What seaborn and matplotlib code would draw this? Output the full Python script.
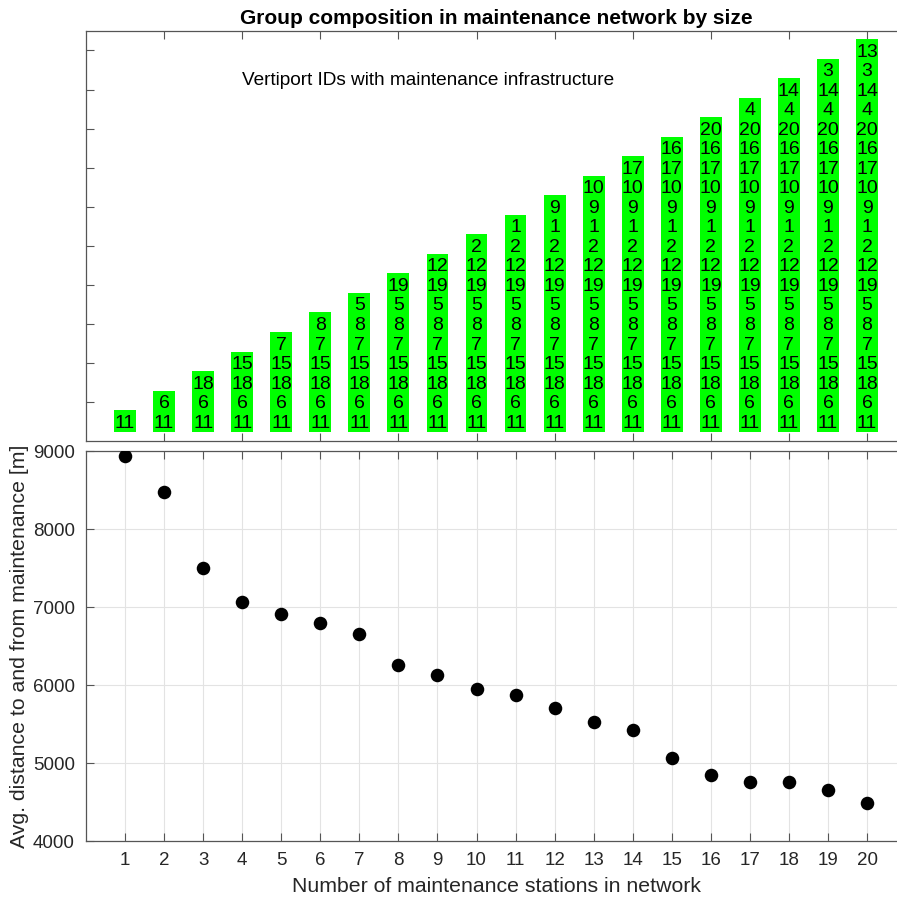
import numpy as np
import pandas as pd
import matplotlib
matplotlib.use("Agg")
import matplotlib.pyplot as plt
import seaborn as sns

# Data
stations = list(range(1, 21))
# order in which vertiports are added to the maintenance network (bottom to top)
vertiport_order = [11, 6, 18, 15, 7, 8, 5, 19, 12, 2, 1, 9, 10, 17, 16, 20, 4, 14, 3, 13]
avg_distance = [8940, 8470, 7495, 7060, 6910, 6800, 6660, 6255, 6130, 5945,
                5875, 5705, 5530, 5420, 5060, 4850, 4755, 4755, 4650, 4485]
groups = [vertiport_order[:n] for n in stations]

sns.set_style("white")
plt.rcParams['font.family'] = ['Liberation Sans', 'DejaVu Sans']

GREEN = '#00ff00'
SPINE = '#555555'
TXT = '#262626'
pad = 0.13  # extra box height around the text rows

fig = plt.figure(figsize=(8.97, 8.97), dpi=100)
ax1 = fig.add_axes([0.0959, 0.5084, 0.9142, 0.4571])
ax2 = fig.add_axes([0.0959, 0.0624, 0.9142, 0.4348])

# Top panel: green boxes with the vertiport IDs of each network size
bars = pd.DataFrame({'size': stations, 'height': [len(g) + pad for g in groups]})
sns.barplot(data=bars, x='size', y='height', native_scale=True, width=0.56,
            color=GREEN, saturation=1, errorbar=None, linewidth=0, ax=ax1)
for n, g in zip(stations, groups):
    for k, vid in enumerate(g):
        ax1.text(n, pad / 2 + k + 0.5, str(vid), ha='center', va='center_baseline',
                 fontsize=14, color='black')
ax1.text(4, 18.0, 'Vertiport IDs with maintenance infrastructure', ha='left',
         va='center', fontsize=13.7, color='black')
ax1.set_xlim(0, 21)
ax1.set_ylim(-0.45, 20.55)
ax1.set_xticks(np.arange(2, 21, 2))
ax1.set_xticklabels([])
ax1.set_yticks(np.arange(1.55, 20.5, 2))
ax1.set_yticklabels([])
ax1.set_xlabel('')
ax1.set_ylabel('')
ax1.tick_params(axis='both', direction='in', length=6, width=0.8, color=SPINE,
                top=True, bottom=True, left=True, right=False)
ax1.set_title('Group composition in maintenance network by size',
              fontsize=15, fontweight='bold', color='black', pad=5)

# Bottom panel: average distance vs number of stations
dist = pd.DataFrame({'stations': stations, 'distance': avg_distance})
sns.scatterplot(data=dist, x='stations', y='distance', color='black', s=95,
                edgecolor='black', linewidth=0, zorder=3, ax=ax2)
ax2.set_xlim(0, 21)
ax2.set_ylim(4000, 9000)
ax2.set_xticks(stations)
ax2.set_yticks(range(4000, 9001, 1000))
ax2.grid(True, color='#e3e3e3', linewidth=0.8)
ax2.set_axisbelow(True)
ax2.tick_params(axis='both', direction='in', length=6, width=0.8, color=SPINE,
                labelsize=13.5, labelcolor=TXT, top=True, bottom=True,
                left=True, right=False, pad=8)
ax2.set_xlabel('Number of maintenance stations in network', fontsize=15.3, color=TXT,
               labelpad=6)
ax2.set_ylabel('Avg. distance to and from maintenance [m]', fontsize=15.3, color=TXT,
               labelpad=3)

for ax in (ax1, ax2):
    for sp in ax.spines.values():
        sp.set_color(SPINE)
        sp.set_linewidth(0.9)
    ax.spines['right'].set_visible(False)

fig.savefig('out.png', dpi=100)
